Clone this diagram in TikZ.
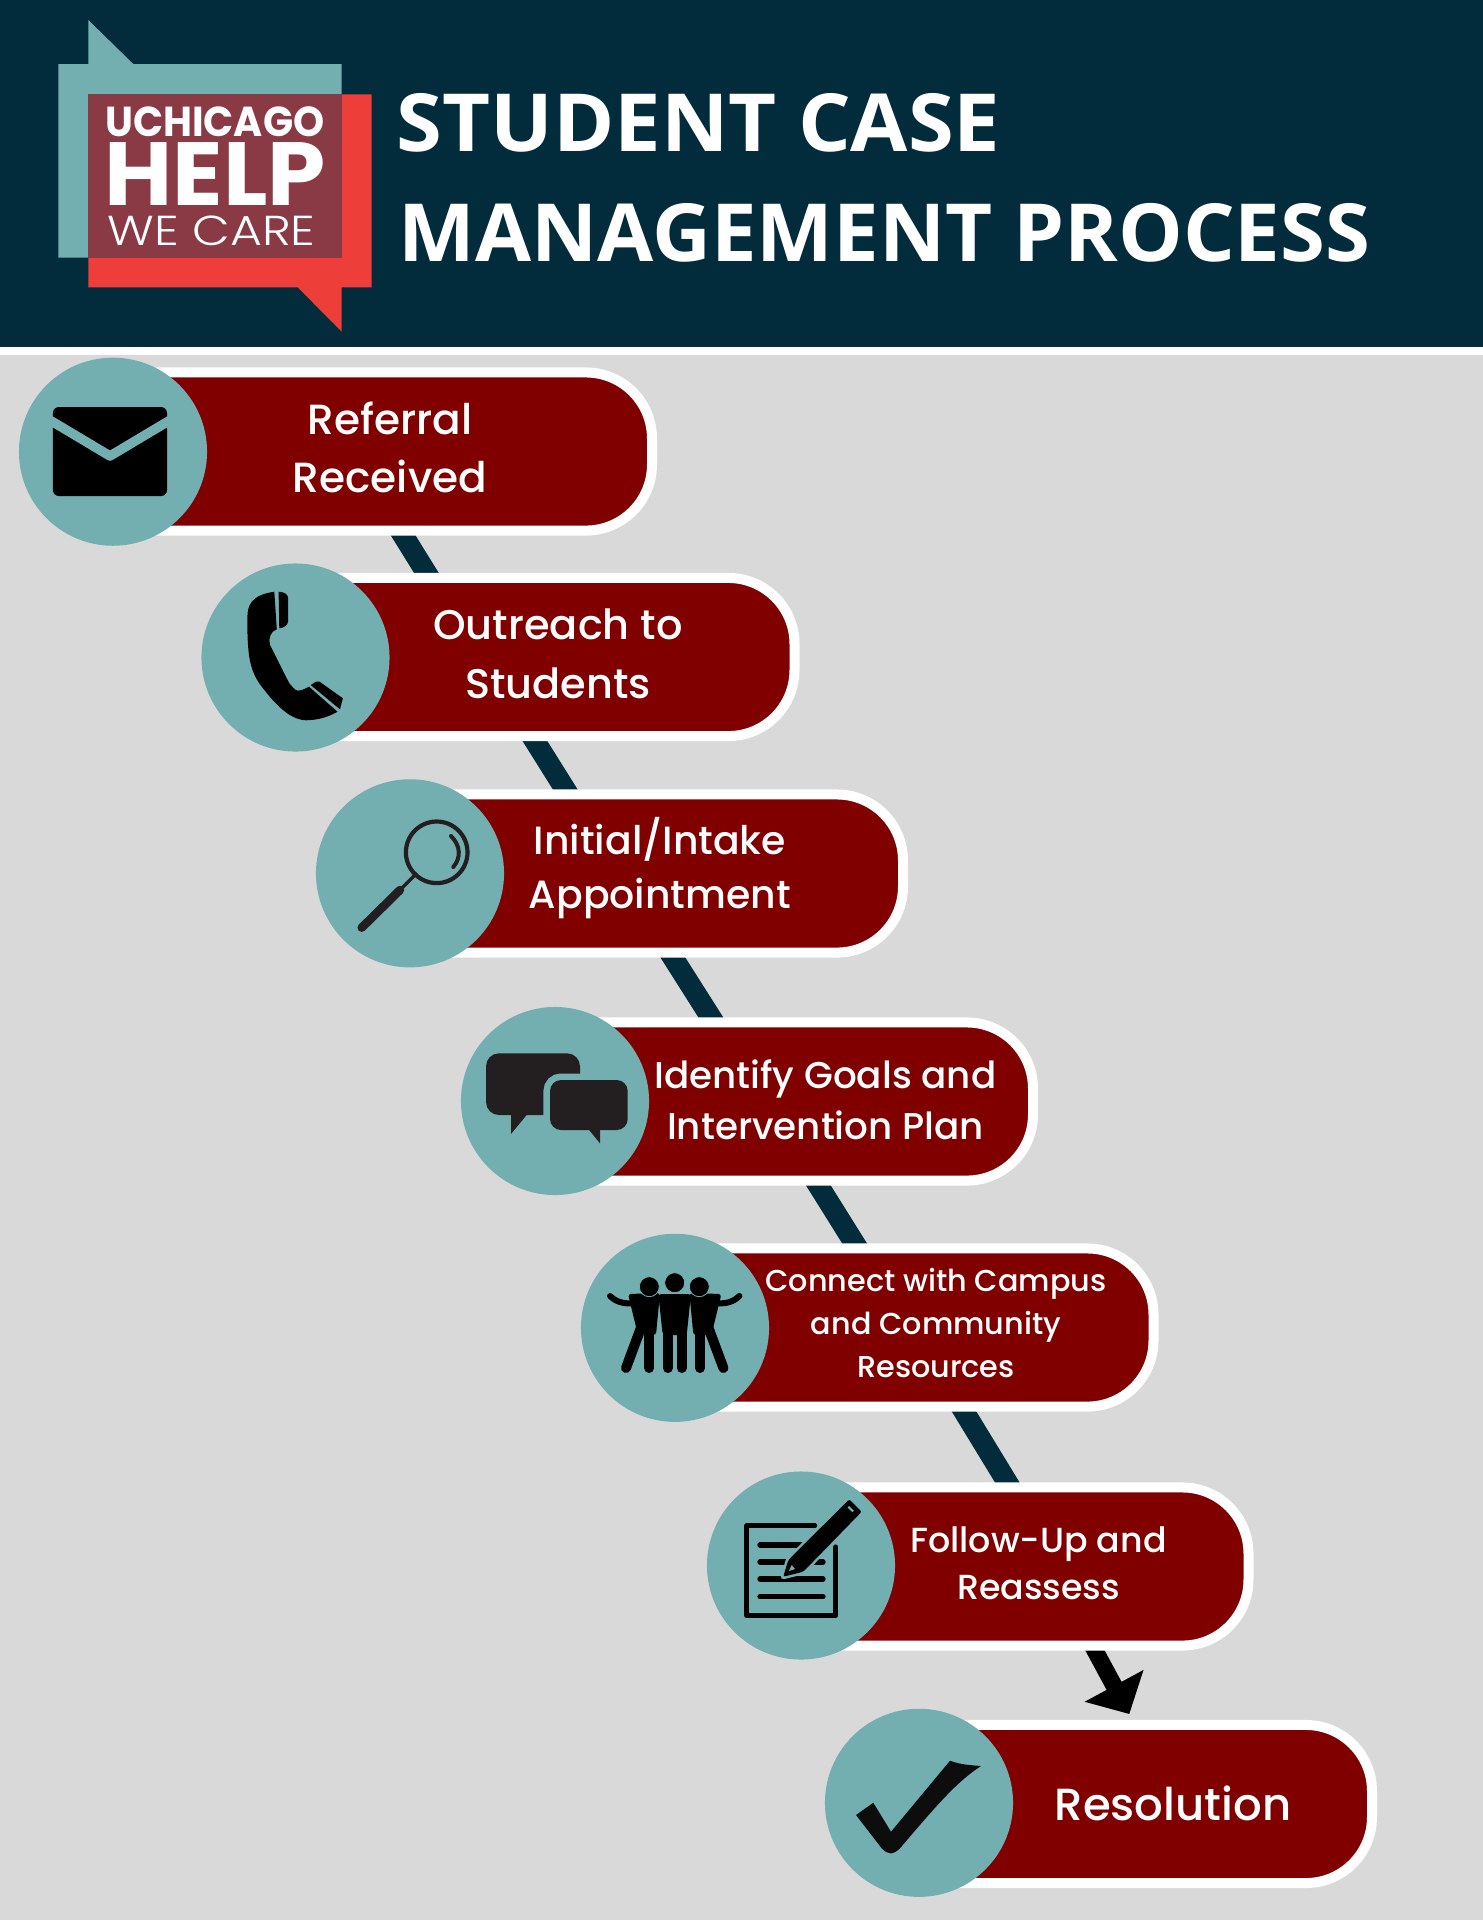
\documentclass[tikz,border=0pt]{standalone}
\usepackage{fontspec}
\usepackage{xcolor}
\usepackage{graphicx}
\usetikzlibrary{arrows.meta, positioning}

\newfontfamily\titlefont{Open Sans}
\newfontfamily\stepfont{Poppins Medium}
\newfontfamily\logofont{Poppins}
\newfontfamily\logolight{Poppins Light}

\definecolor{headblue}{HTML}{022B3C}
\definecolor{stepteal}{HTML}{73AFB0}
\definecolor{stepred}{HTML}{800000}
\definecolor{pagegray}{HTML}{D9D9D9}
\definecolor{logored}{HTML}{EE3E3A}
\definecolor{logomaroon}{HTML}{8A3A45}
\definecolor{iconink}{HTML}{231F20}

\tikzset{
  stepbar/.style={draw=white, line width=0.1cm, fill=stepred, rounded corners=0.66cm, anchor=east, minimum height=1.58cm, inner sep=0pt, outer sep=0pt},
  stepdisc/.style={circle, fill=stepteal, minimum size=1.88cm, inner sep=0pt},
  steptext/.style={text=white, align=center, inner sep=0pt},
  steplink/.style={draw=headblue, line width=0.21cm},
  iconstroke/.style={line cap=round, line join=round}
}

\begin{document}
\begin{tikzpicture}[x=0.01cm, y=-0.01cm]
  \useasboundingbox (0,0) rectangle (1483,1920);

  % ==== Header ====
  \fill[pagegray] (0,0) rectangle (1483,1920);
  \fill[headblue] (0,0) rectangle (1483,347);
  \fill[white] (0,347) rectangle (1483,355);

  % Logo
  \fill[stepteal] (58.3,64) -- (88.3,64) -- (88.3,20) -- (133.3,64) -- (341.7,64) -- (341.7,257.7) -- (58.3,257.7) -- cycle;
  \fill[logored] (88.3,94.3) -- (371.7,94.3) -- (371.7,287.3) -- (341.7,287.3) -- (341.7,331.7) -- (297.7,287.3) -- (88.3,287.3) -- cycle;
  \fill[logomaroon] (88.3,94.3) rectangle (341.7,257.7);
  \node[text=white, inner sep=0pt, anchor=base] (logo1) at (214.7,136) {\logofont\bfseries\fontsize{11.9}{14}\selectfont\scalebox{0.945}[1]{UCHICAGO}};
  \node[text=white, inner sep=0pt, anchor=base] (logo2) at (215.3,205.7) {\logofont\bfseries\fontsize{25.5}{28}\selectfont\scalebox{1.04}[1]{HELP}};
  \node[text=white, inner sep=0pt, anchor=base] (logo3) at (211.5,245.7) {\logolight\fontsize{11.9}{14}\selectfont\scalebox{1.17}[1]{WE CARE}};

  % Title
  \node[text=white, inner sep=0pt, anchor=base west, align=left] (title1) at (396,151.7) {\titlefont\bfseries\fontsize{22.8}{26}\selectfont\scalebox{1.035}[1]{STUDENT CASE}};
  \node[text=white, inner sep=0pt, anchor=base west, align=left] (title2) at (398,261.7) {\titlefont\bfseries\fontsize{22.8}{26}\selectfont\scalebox{1.015}[1]{MANAGEMENT PROCESS}};

  % ==== Links between the steps ====
  \coordinate (link1a) at (393.6,520);
  \coordinate (link1b) at (437,590);
  \coordinate (link2a) at (524.9,725);
  \coordinate (link2b) at (575,805);
  \coordinate (link3a) at (661.8,940);
  \coordinate (link3b) at (722,1035);
  \coordinate (link4a) at (808.7,1170);
  \coordinate (link4b) at (865,1260);
  \coordinate (link5a) at (954,1395);
  \coordinate (link5b) at (1018,1500);
  \coordinate (link6a) at (1086.6,1635);
  \coordinate (link6b) at (1129.3,1714);

  \draw[steplink] (link1a) -- (link1b);
  \draw[steplink] (link2a) -- (link2b);
  \draw[steplink] (link3a) -- (link3b);
  \draw[steplink] (link4a) -- (link4b);
  \draw[steplink] (link5a) -- (link5b);
  \draw[black, line width=0.17cm, -{Triangle[length=0.32cm, width=0.65cm]}] (link6a) -- (link6b);

  % ==== Steps ====
  \node[stepbar, minimum width=5.59cm] (bar1) at (652,451.5) {};
  \node[stepbar, minimum width=5.19cm] (bar2) at (794.5,657) {};
  \node[stepbar, minimum width=5.13cm] (bar3) at (903,873.5) {};
  \node[stepbar, minimum width=4.98cm] (bar4) at (1033,1101.5) {};
  \node[stepbar, minimum width=4.98cm] (bar5) at (1153.5,1327.5) {};
  \node[stepbar, minimum width=4.68cm] (bar6) at (1248.5,1566.5) {};
  \node[stepbar, minimum width=4.73cm] (bar7) at (1372,1804) {};

  \node[stepdisc] (disc1) at (113,451.7) {};
  \node[stepdisc] (disc2) at (295.5,657.5) {};
  \node[stepdisc] (disc3) at (410,873.3) {};
  \node[stepdisc] (disc4) at (555,1101) {};
  \node[stepdisc] (disc5) at (675,1327.8) {};
  \node[stepdisc] (disc6) at (801,1565.5) {};
  \node[stepdisc] (disc7) at (919,1802.8) {};

  % Labels
  \node[steptext, font=\stepfont\fontsize{12}{16.4}\selectfont] (txt1) at (390,447.5) {Referral\\Received};
  \node[steptext, font=\stepfont\fontsize{11.8}{16.7}\selectfont] (txt2) at (558,654) {Outreach to\\Students};
  \node[steptext, font=\stepfont\fontsize{11.2}{15.3}\selectfont] (txt3) at (660,868) {Initial/Intake\\Appointment};
  \node[steptext, font=\stepfont\fontsize{10.6}{14.4}\selectfont] (txt4) at (825.5,1099.5) {Identify Goals and\\Intervention Plan};
  \node[steptext, font=\stepfont\fontsize{8.6}{12.2}\selectfont] (txt5) at (936,1323) {Connect with Campus\\and Community\\Resources};
  \node[steptext, font=\stepfont\fontsize{9.9}{13.3}\selectfont] (txt6) at (1038.5,1563) {Follow-Up and\\Reassess};
  \node[steptext, font=\stepfont\fontsize{12.8}{15}\selectfont] (txt7) at (1173,1803) {Resolution};

  % ==== Icons ====
  % envelope
  \fill[black, rounded corners=0.06cm] (52.9,407) rectangle (167,496);
  \draw[stepteal, line width=0.095cm, iconstroke] (48,419) -- (110,456) -- (172,419);

  % telephone
  \fill[black] (274.3,591.7) .. controls (258,594) and (248,600) .. (247.5,615) .. controls (247,635) and (248,655) .. (251,665) .. controls (255,680) and (262,687) .. (270,697) .. controls (285,714) and (297,722) .. (311,720) .. controls (322,719) and (330,716) .. (337.5,711.7) -- (309,686.7) .. controls (303,690) and (298,692) .. (295,689.5) -- (289.3,683.3) -- (270,645) .. controls (268,638) and (271,631) .. (276.8,629.3) -- cycle;
  \fill[black] (278.6,591.7) .. controls (284,592) and (288,594) .. (288.2,598.3) -- (288.2,621.7) .. controls (287,626) and (283,628) .. (279.3,628.3) -- cycle;
  \fill[black] (310.7,685) -- (316,681.7) -- (319.6,681.7) -- (342.9,698.3) -- (340,709.3) -- cycle;

  % magnifier
  \draw[iconink, line width=0.042cm] (436.7,852.3) circle[radius=30.8];
  \draw[iconink, line width=0.04cm, iconstroke] (451,836) .. controls (461,846) and (461,858) .. (453.3,867);
  \draw[iconink, line width=0.035cm] (417,873) -- (400,890);
  \draw[iconink, line width=0.085cm, iconstroke] (400,890) -- (361.7,927.7);

  % speech bubbles
  \fill[iconink, rounded corners=0.13cm] (486,1053.3) rectangle (580,1115);
  \fill[iconink] (511,1113) -- (511,1134) -- (528.3,1113) -- cycle;
  \draw[stepteal, line width=0.13cm, rounded corners=0.11cm] (550,1080) rectangle (627.7,1130);
  \fill[iconink, rounded corners=0.11cm] (550,1080) rectangle (627.7,1130);
  \fill[iconink] (588.3,1129) -- (600,1143.3) -- (600,1129) -- cycle;

  % group of people
  \fill[black, rounded corners=0.03cm] (658.3,1294) -- (691,1294) -- (686.7,1335) -- (662.7,1335) -- cycle;
  \fill[black, rounded corners=0.03cm] (628,1294) -- (660,1293) -- (656,1335) -- (638,1335) -- cycle;
  \fill[black, rounded corners=0.03cm] (721.4,1294) -- (689.4,1293) -- (693.4,1335) -- (711.4,1335) -- cycle;
  \draw[black, line width=0.1cm, iconstroke] (667.7,1330) -- (667.7,1368);
  \draw[black, line width=0.1cm, iconstroke] (681.7,1330) -- (681.7,1368);
  \draw[black, line width=0.1cm, iconstroke] (642,1325) -- (626,1368);
  \draw[black, line width=0.1cm, iconstroke] (649.3,1325) -- (649.3,1368);
  \draw[black, line width=0.1cm, iconstroke] (700.1,1325) -- (700.1,1368);
  \draw[black, line width=0.1cm, iconstroke] (707.4,1325) -- (723.4,1368);
  \draw[black, line width=0.06cm, iconstroke] (610,1296) .. controls (615,1301) and (622,1304) .. (633,1303.3);
  \draw[black, line width=0.06cm, iconstroke] (739.4,1296) .. controls (734.4,1301) and (727.4,1304) .. (716.4,1303.3);
  \filldraw[fill=black, draw=stepteal, line width=0.008cm] (649.3,1286.7) circle[radius=10];
  \filldraw[fill=black, draw=stepteal, line width=0.008cm] (699.3,1286.7) circle[radius=10];
  \filldraw[fill=black, draw=stepteal, line width=0.008cm] (674.7,1282.7) circle[radius=10];

  % note and pencil
  \draw[black, line width=0.045cm, iconstroke] (815,1525.7) -- (746.7,1525.7) -- (746.7,1615.7) -- (835.7,1615.7) -- (835.7,1546.7);
  \draw[black, line width=0.053cm, iconstroke] (760,1545) -- (823,1545);
  \draw[black, line width=0.053cm, iconstroke] (760,1562) -- (823,1562);
  \draw[black, line width=0.053cm, iconstroke] (760,1579) -- (823,1579);
  \draw[black, line width=0.053cm, iconstroke] (760,1596.7) -- (823,1596.7);
  \filldraw[fill=black, draw=stepteal, line width=0.05cm, line join=round] (849.3,1499.3) -- (861.7,1511.7) -- (803.3,1571.7) -- (783.3,1576.7) -- (788.3,1560) -- cycle;
  \fill[black, rounded corners=0.02cm] (849.3,1499.3) -- (861.7,1511.7) -- (803.3,1571.7) -- (783.3,1576.7) -- (788.3,1560) -- cycle;
  \draw[stepteal, line width=0.02cm] (848.3,1506.7) -- (853.2,1511.5);
  \fill[stepteal] (791.7,1565) -- (795,1569) -- (789,1571) -- cycle;

  % check mark
  \fill[black!95] (856,1815) -- (873.3,1802.7) -- (891,1831.7) -- (950,1760.7) .. controls (962,1765) and (970,1765) .. (981,1766) .. controls (960,1780) and (945,1795) .. (900,1848.3) .. controls (893,1855) and (888,1855) .. (881.7,1848.3) -- cycle;
\end{tikzpicture}
\end{document}
